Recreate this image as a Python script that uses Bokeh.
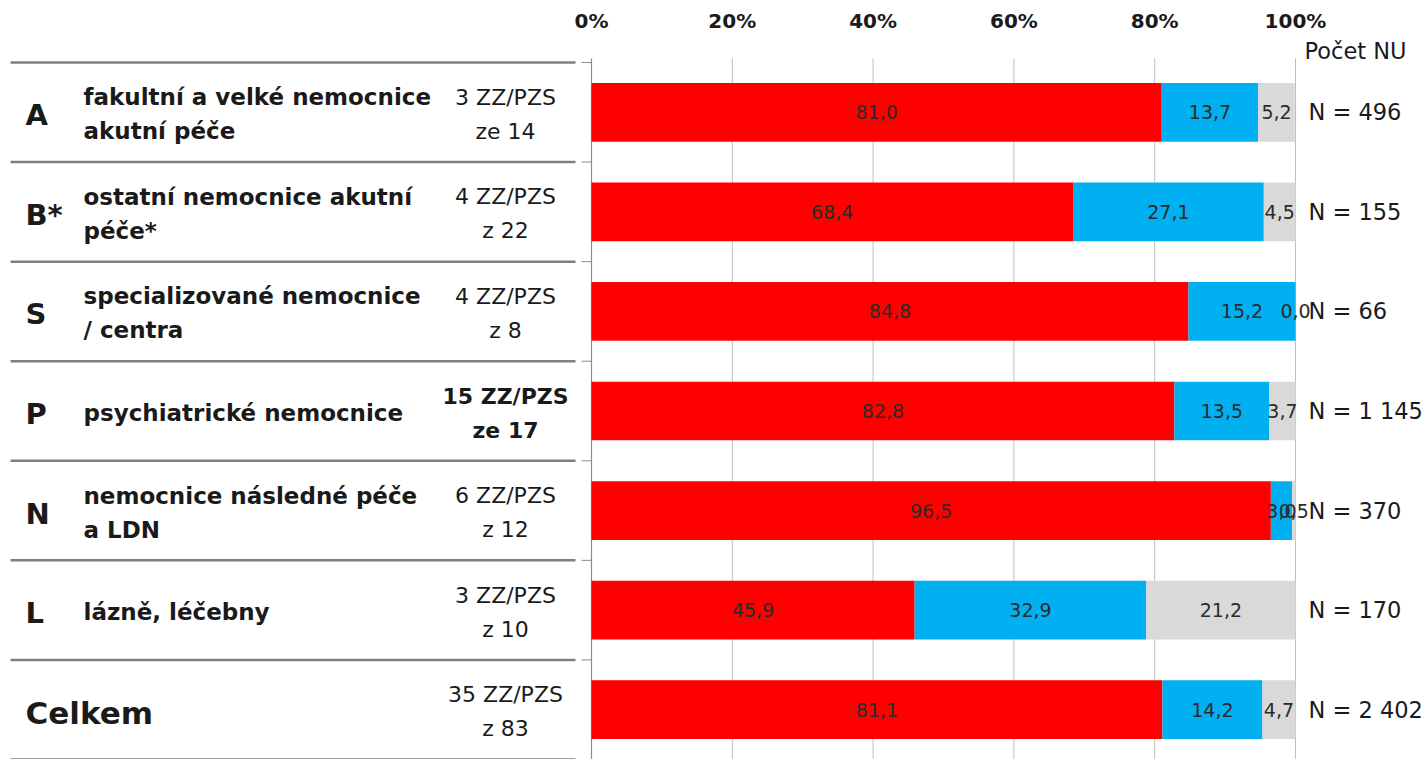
import numpy as np
from bokeh.plotting import figure
from bokeh.models import Range1d, ColumnDataSource
from bokeh.core.properties import value
from bokeh.embed import file_html
from bokeh.resources import INLINE

# ---- data ----
categories = ["A", "B*", "S", "P", "N", "L", "Celkem"]
desc_line1 = ["fakultní a velké nemocnice", "ostatní nemocnice akutní", "specializované nemocnice",
              "psychiatrické nemocnice", "nemocnice následné péče", "lázně, léčebny", ""]
desc_line2 = ["akutní péče", "péče*", "/ centra", "", "a LDN", "", ""]
count_line1 = ["3 ZZ/PZS", "4 ZZ/PZS", "4 ZZ/PZS", "15 ZZ/PZS", "6 ZZ/PZS", "3 ZZ/PZS", "35 ZZ/PZS"]
count_line2 = ["ze 14", "z 22", "z 8", "ze 17", "z 12", "z 10", "z 83"]
count_bold = [False, False, False, True, False, False, False]
red_vals = [81.0, 68.4, 84.8, 82.8, 96.5, 45.9, 81.1]
blue_vals = [13.7, 27.1, 15.2, 13.5, 3.0, 32.9, 14.2]
grey_vals = [5.2, 4.5, 0.0, 3.7, 0.5, 21.2, 4.7]
n_labels = ["N = 496", "N = 155", "N = 66", "N = 1 145", "N = 370", "N = 170", "N = 2 402"]
n_header = "Počet NU"
x_ticks = [0, 20, 40, 60, 80, 100]
x_tick_labels = ["0%", "20%", "40%", "60%", "80%", "100%"]

# ---- layout (screen px -> data) ----
W, H = 1424, 759
ZERO_PX, HUNDRED_PX = 591, 1295
TOP_PX = 62
n = len(categories)
ppu = (HUNDRED_PX - ZERO_PX) / 100.0
row_px = (H - TOP_PX) / n

def px(x):
    return (x - ZERO_PX) / ppu

def py(y):
    return -0.5 + (y - TOP_PX) / row_px

FONT = "DejaVu Sans"
TXT = "#1a1a1a"
ys = np.arange(n)

p = figure(width=W, height=H, output_backend="svg", toolbar_location=None,
           x_axis_location=None, y_axis_location=None,
           x_range=Range1d(px(0), px(W)), y_range=Range1d(py(H), py(0)),
           min_border=0)
p.outline_line_color = None
p.background_fill_color = "white"
p.border_fill_color = "white"
p.xgrid.grid_line_color = None
p.ygrid.grid_line_color = None

# vertical gridlines at the tick values
top_g, bot_g = py(58), n - 0.5
p.segment(x0=x_ticks[1:], x1=x_ticks[1:], y0=[top_g] * (len(x_ticks) - 1), y1=[bot_g] * (len(x_ticks) - 1),
          line_color="#bfbfbf", line_width=1)
p.segment(x0=[x_ticks[0]], x1=[x_ticks[0]], y0=[top_g], y1=[bot_g], line_color="#8c8c8c", line_width=1.2)

# tick labels (top axis)
p.text(x=x_ticks, y=[py(20)] * len(x_ticks), text=x_tick_labels, text_align="center", text_baseline="middle",
       text_font=value(FONT), text_font_style="bold", text_font_size="20px", text_color=TXT)

# stacked bars
r = np.array(red_vals); b = np.array(blue_vals); g = np.array(grey_vals)
src = ColumnDataSource(dict(y=ys, r0=np.zeros(n), r1=r, b0=r, b1=r + b, g0=r + b, g1=r + b + g))
bh = 0.59
p.hbar(y="y", left="r0", right="r1", height=bh, source=src, fill_color="#ff0000", line_color=None)
p.hbar(y="y", left="b0", right="b1", height=bh, source=src, fill_color="#00b0f0", line_color=None)
p.hbar(y="y", left="g0", right="g1", height=bh, source=src, fill_color="#d9d9d9", line_color=None)

def fmt(v):
    return f"{v:.1f}".replace(".", ",")

lx, ly, lt = [], [], []
for i in range(n):
    for lo, val in ((0.0, r[i]), (r[i], b[i]), (r[i] + b[i], g[i])):
        lx.append(lo + val / 2.0); ly.append(ys[i]); lt.append(fmt(val))
p.text(x=lx, y=ly, text=lt, text_align="center", text_baseline="middle",
       text_font=value(FONT), text_font_size="19px", text_color="#2b2b2b")

# N labels + header
p.text(x=[px(1308)] * n, y=ys, text=n_labels, text_align="left", text_baseline="middle",
       text_font=value(FONT), text_font_size="22.5px", text_color=TXT)
p.text(x=[px(1304)], y=[py(50)], text=[n_header], text_align="left", text_baseline="middle",
       text_font=value(FONT), text_font_size="22.5px", text_color=TXT)

# table lines
bounds = np.arange(n + 1) - 0.5
p.segment(x0=[px(10)] * (n + 1), x1=[px(575)] * (n + 1), y0=bounds, y1=bounds,
          line_color="#7f7f7f", line_width=2.5)
p.segment(x0=[px(581)] * (n + 1), x1=[0] * (n + 1), y0=bounds, y1=bounds,
          line_color="#8c8c8c", line_width=1)

# letters
p.text(x=[px(25)] * (n - 1), y=ys[:-1], text=categories[:-1], text_align="left", text_baseline="middle",
       text_font=value(FONT), text_font_style="bold", text_font_size="29px", text_color=TXT,
       y_offset=3)
p.text(x=[px(25)], y=[ys[-1]], text=[categories[-1]], text_align="left", text_baseline="middle",
       text_font=value(FONT), text_font_style="bold", text_font_size="31px", text_color=TXT,
       y_offset=3)

# descriptions
two = [i for i in range(n) if desc_line2[i]]
one = [i for i in range(n) if desc_line1[i] and not desc_line2[i]]
common = dict(text_align="left", text_baseline="middle", text_font=value(FONT), text_font_style="bold",
              text_font_size="23px", text_color=TXT)
p.text(x=[px(83)] * len(two), y=[ys[i] for i in two], text=[desc_line1[i] for i in two], y_offset=-15, **common)
p.text(x=[px(83)] * len(two), y=[ys[i] for i in two], text=[desc_line2[i] for i in two], y_offset=19, **common)
p.text(x=[px(83)] * len(one), y=[ys[i] for i in one], text=[desc_line1[i] for i in one], y_offset=2, **common)

# counts
for bold in (False, True):
    idx = [i for i in range(n) if count_bold[i] == bold]
    kw = dict(text_align="center", text_baseline="middle", text_font=value(FONT),
              text_font_style="bold" if bold else "normal", text_font_size="22px", text_color=TXT)
    p.text(x=[px(505)] * len(idx), y=[ys[i] for i in idx], text=[count_line1[i] for i in idx], y_offset=-15, **kw)
    p.text(x=[px(505)] * len(idx), y=[ys[i] for i in idx], text=[count_line2[i] for i in idx], y_offset=19, **kw)

open("out.html", "w").write(file_html(p, INLINE))
